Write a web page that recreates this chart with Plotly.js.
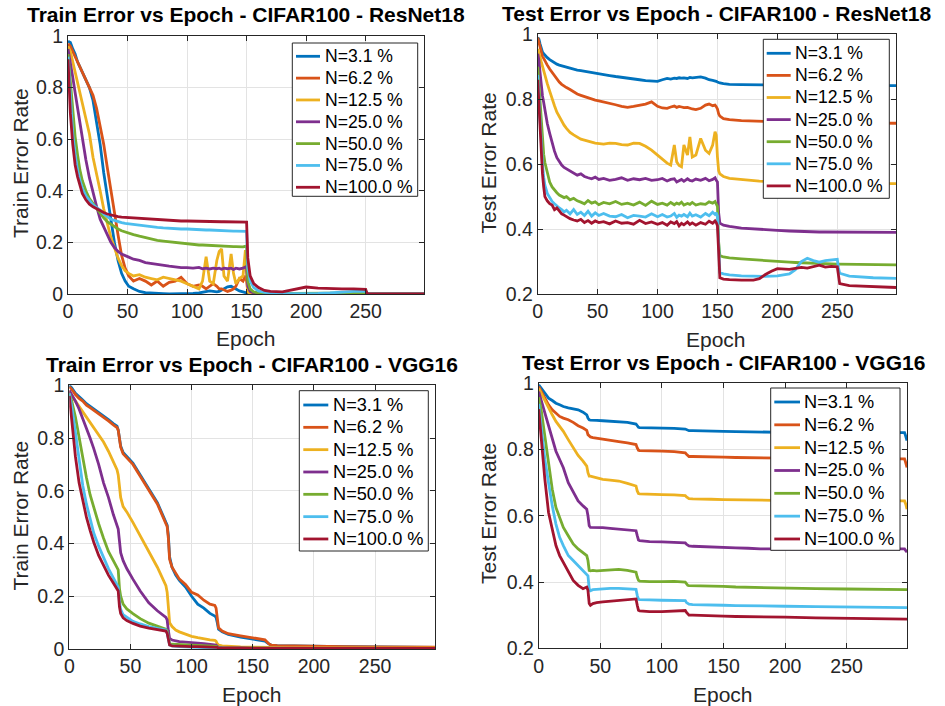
<!DOCTYPE html>
<html>
<head>
<meta charset="utf-8">
<script src="https://cdn.plot.ly/plotly-3.0.1.min.js"></script>
<style>html,body{margin:0;padding:0;background:#fff;}#chart{width:945px;height:706px;}</style>
</head>
<body>
<div id="chart"></div>
<script>
// ---------- Labels ----------
const seriesNames = ['N=3.1 %','N=6.2 %','N=12.5 %','N=25.0 %','N=50.0 %','N=75.0 %','N=100.0 %'];
const seriesColors = ['#0072BD','#D95319','#EDB120','#7E2F8E','#77AC30','#4DBEEE','#A2142F'];
const panelTitles = ['Train Error vs Epoch - CIFAR100 - ResNet18','Test Error vs Epoch - CIFAR100 - ResNet18',
                     'Train Error vs Epoch - CIFAR100 - VGG16','Test Error vs Epoch - CIFAR100 - VGG16'];
const yLabels = ['Train Error Rate','Test Error Rate','Train Error Rate','Test Error Rate'];
const xLabel = 'Epoch';
const xTickVals = [0,50,100,150,200,250];
const xTickText = ['0','50','100','150','200','250'];
const yTrainTickVals = [0,0.2,0.4,0.6,0.8,1];
const yTrainTickText = ['0','0.2','0.4','0.6','0.8','1'];
const yTestTickVals = [0.2,0.4,0.6,0.8,1];
const yTestTickText = ['0.2','0.4','0.6','0.8','1'];

// ---------- Panel 1: ResNet18 train ----------
const resTrainEpochs = [0,2,4,6,8,10,12,15,18,21, 24,27,30,33,36,39,42,45,48,51, 55,60,65,70,75,80,85,90,95,100,
  105,110,113,116,119,122,125,127,129,131, 134,137,139,141,144,147,149,150,151,153, 156,160,165,170,180,190,200,210,220,230,
  240,250,251,252,260,280,299];
const resTrain_3_1 = [0.98,0.975,0.95,0.93,0.9,0.88,0.86,0.83,0.8,0.75, 0.67,0.58,0.47,0.38,0.29,0.2,0.13,0.08,0.05,0.03,
  0.02,0.01,0.005,0.003,0.002,0.001,0,0,0,0, 0.002,0.004,0.006,0.01,0.012,0.01,0.008,0.01,0.015,0.02,
  0.028,0.03,0.025,0.02,0.012,0.008,0.005,0.003,0,0, 0,0,0,0,0,0,0,0,0,0, 0,0,0,0,0,0,0];
const resTrain_6_2 = [0.97,0.96,0.94,0.92,0.9,0.88,0.86,0.83,0.8,0.77, 0.72,0.65,0.58,0.49,0.4,0.31,0.23,0.15,0.1,0.07,
  0.05,0.06,0.05,0.035,0.05,0.03,0.045,0.05,0.065,0.04, 0.03,0.035,0.03,0.02,0.03,0.04,0.03,0.02,0.02,0.015,
  0.01,0.015,0.02,0.03,0.06,0.05,0.07,0.05,0.01,0, 0,0,0,0,0,0,0,0,0,0, 0,0,0,0,0,0,0];
const resTrain_12_5 = [0.96,0.94,0.9,0.86,0.82,0.78,0.74,0.69,0.62,0.53, 0.47,0.4,0.33,0.27,0.22,0.18,0.14,0.11,0.09,0.08,
  0.07,0.075,0.065,0.06,0.055,0.065,0.06,0.055,0.05,0.04, 0.03,0.02,0.05,0.145,0.05,0.04,0.13,0.165,0.175,0.07,
  0.05,0.155,0.08,0.04,0.06,0.07,0.17,0.1,0.01,0, 0,0,0,0,0,0,0,0,0,0, 0,0,0,0,0,0,0];
const resTrain_25 = [0.95,0.9,0.84,0.78,0.72,0.66,0.6,0.52,0.45,0.39, 0.34,0.29,0.26,0.23,0.2,0.18,0.165,0.155,0.148,0.143,
  0.135,0.13,0.122,0.118,0.115,0.11,0.108,0.105,0.102,0.102, 0.1,0.103,0.098,0.1,0.097,0.1,0.098,0.1,0.096,0.1,
  0.098,0.1,0.095,0.1,0.097,0.1,0.105,0.1,0.03,0.01, 0.004,0.001,0,0,0,0,0,0,0,0, 0,0,0,0,0,0,0];
const resTrain_50 = [0.93,0.82,0.7,0.61,0.54,0.48,0.44,0.4,0.37,0.35, 0.33,0.31,0.295,0.28,0.27,0.26,0.252,0.245,0.24,0.235,
  0.23,0.224,0.218,0.213,0.208,0.205,0.202,0.2,0.197,0.195, 0.193,0.19,0.19,0.189,0.188,0.188,0.187,0.186,0.186,0.185,
  0.185,0.184,0.184,0.184,0.183,0.183,0.185,0.183,0.05,0.02, 0.008,0.004,0.003,0.002,0.002,0.002,0.002,0.003,0.003,0.004,
  0.004,0.004,0.001,0,0,0,0];
const resTrain_75 = [0.92,0.75,0.62,0.54,0.48,0.44,0.41,0.38,0.36,0.345, 0.335,0.325,0.31,0.3,0.29,0.285,0.28,0.277,0.274,0.272,
  0.27,0.266,0.262,0.26,0.258,0.256,0.254,0.253,0.252,0.252, 0.25,0.249,0.249,0.248,0.248,0.247,0.247,0.246,0.246,0.245,
  0.245,0.245,0.244,0.244,0.244,0.243,0.243,0.243,0.1,0.05, 0.025,0.012,0.006,0.004,0.002,0.001,0.001,0.002,0.004,0.008,
  0.01,0.01,0.003,0,0,0,0];
const resTrain_100 = [0.91,0.7,0.58,0.5,0.455,0.42,0.39,0.365,0.348,0.338, 0.33,0.322,0.316,0.31,0.306,0.303,0.3,0.298,0.297,0.296,
  0.294,0.292,0.29,0.289,0.287,0.286,0.285,0.284,0.283,0.283, 0.282,0.282,0.281,0.281,0.281,0.28,0.28,0.28,0.28,0.28,
  0.28,0.28,0.279,0.279,0.279,0.279,0.279,0.279,0.14,0.07, 0.04,0.025,0.014,0.01,0.008,0.018,0.027,0.023,0.021,0.02,
  0.02,0.018,0.005,0,0,0,0];

// ---------- Panel 2: ResNet18 test ----------
const resTestEpochs = [0,1,2,3,4,5,6,8,10,12, 14,16,18,20,22,24,27,30,33,36, 39,42,45,48,51,55,60,65,70,75,
  80,85,90,95,100,104,108,111,114,116, 118,120,122,125,127,129,132,136,140,143, 146,148,149,150,151,152,155,160,170,180,
  185,190,195,200,210,215,220,225,230,235, 240,245,250,251,252,260,270,280,299];
const resTest_3_1 = [0.99,0.985,0.97,0.955,0.945,0.94,0.935,0.928,0.922,0.917, 0.912,0.908,0.905,0.903,0.9,0.897,0.895,0.892,0.89,0.888,
  0.886,0.883,0.881,0.879,0.877,0.875,0.873,0.87,0.868,0.865, 0.862,0.86,0.857,0.856,0.855,0.86,0.864,0.862,0.865,0.864,
  0.866,0.865,0.866,0.864,0.867,0.866,0.868,0.869,0.865,0.86, 0.858,0.857,0.855,0.853,0.851,0.85,0.848,0.846,0.845,0.844,
  0.844,0.844,0.843,0.843,0.843,0.843,0.843,0.843,0.843,0.843, 0.843,0.843,0.842,0.842,0.842,0.842,0.842,0.842,0.842];
const resTest_6_2 = [0.99,0.975,0.955,0.94,0.932,0.926,0.918,0.905,0.893,0.882, 0.872,0.862,0.853,0.846,0.84,0.836,0.83,0.823,0.816,0.812,
  0.808,0.804,0.8,0.797,0.795,0.792,0.788,0.783,0.778,0.775, 0.778,0.782,0.785,0.792,0.778,0.773,0.772,0.776,0.779,0.775,
  0.778,0.776,0.774,0.775,0.772,0.77,0.768,0.772,0.782,0.785, 0.78,0.782,0.777,0.77,0.755,0.748,0.74,0.737,0.734,0.732,
  0.732,0.731,0.731,0.73,0.73,0.73,0.729,0.729,0.729,0.729, 0.728,0.728,0.728,0.728,0.728,0.727,0.727,0.726,0.726];
const resTest_12_5 = [0.955,0.945,0.93,0.915,0.9,0.89,0.875,0.848,0.825,0.8, 0.78,0.76,0.745,0.732,0.72,0.71,0.698,0.69,0.683,0.677,
  0.674,0.67,0.668,0.665,0.664,0.662,0.665,0.664,0.66,0.659, 0.665,0.664,0.655,0.643,0.628,0.615,0.603,0.597,0.659,0.607,
  0.596,0.592,0.659,0.628,0.684,0.622,0.628,0.679,0.643,0.633, 0.659,0.7,0.69,0.622,0.58,0.57,0.562,0.556,0.552,0.549,
  0.548,0.547,0.547,0.546,0.545,0.545,0.545,0.544,0.544,0.544, 0.543,0.543,0.543,0.543,0.542,0.542,0.541,0.541,0.54];
const resTest_25 = [0.94,0.92,0.88,0.84,0.81,0.79,0.765,0.725,0.695,0.665, 0.64,0.62,0.607,0.597,0.59,0.586,0.578,0.572,0.566,0.57,
  0.562,0.558,0.555,0.56,0.553,0.556,0.55,0.553,0.558,0.55, 0.555,0.552,0.556,0.55,0.552,0.556,0.548,0.553,0.555,0.545,
  0.55,0.553,0.547,0.555,0.55,0.548,0.554,0.55,0.556,0.549, 0.553,0.558,0.55,0.545,0.45,0.418,0.412,0.408,0.403,0.4,
  0.399,0.397,0.397,0.396,0.394,0.393,0.392,0.392,0.392,0.391, 0.391,0.391,0.391,0.391,0.391,0.39,0.39,0.39,0.39];
const resTest_50 = [0.9,0.85,0.78,0.72,0.67,0.63,0.605,0.57,0.545,0.53, 0.52,0.512,0.505,0.5,0.497,0.5,0.49,0.495,0.487,0.483,
  0.478,0.488,0.48,0.484,0.475,0.482,0.478,0.485,0.476,0.48, 0.474,0.483,0.473,0.486,0.476,0.48,0.474,0.482,0.475,0.48,
  0.477,0.483,0.474,0.479,0.476,0.482,0.474,0.478,0.476,0.484, 0.48,0.485,0.478,0.47,0.36,0.318,0.314,0.311,0.308,0.305,
  0.304,0.302,0.301,0.3,0.298,0.297,0.296,0.295,0.294,0.294, 0.293,0.293,0.292,0.292,0.292,0.291,0.291,0.29,0.29];
const resTest_75 = [0.875,0.8,0.72,0.65,0.6,0.56,0.535,0.51,0.495,0.485, 0.478,0.47,0.465,0.46,0.453,0.458,0.447,0.46,0.445,0.452,
  0.442,0.455,0.44,0.45,0.442,0.448,0.44,0.438,0.445,0.435, 0.442,0.44,0.437,0.447,0.438,0.445,0.437,0.44,0.448,0.436,
  0.443,0.44,0.445,0.438,0.449,0.44,0.444,0.437,0.448,0.441, 0.452,0.445,0.45,0.44,0.32,0.266,0.262,0.259,0.256,0.254,
  0.254,0.254,0.255,0.256,0.262,0.275,0.3,0.31,0.303,0.298, 0.303,0.305,0.307,0.28,0.264,0.255,0.252,0.25,0.248];
const resTest_100 = [0.86,0.78,0.7,0.62,0.57,0.53,0.5,0.487,0.478,0.474, 0.46,0.465,0.455,0.447,0.443,0.438,0.432,0.428,0.425,0.43,
  0.42,0.426,0.418,0.425,0.42,0.423,0.416,0.425,0.418,0.42, 0.415,0.427,0.417,0.422,0.415,0.42,0.412,0.422,0.417,0.423,
  0.41,0.418,0.413,0.422,0.414,0.419,0.412,0.42,0.415,0.424, 0.418,0.425,0.42,0.41,0.3,0.25,0.246,0.244,0.243,0.243,
  0.247,0.26,0.27,0.278,0.276,0.278,0.282,0.28,0.285,0.289, 0.283,0.285,0.284,0.25,0.232,0.226,0.224,0.222,0.22];

// ---------- Panel 3: VGG16 train ----------
const vggTrainEpochs = [0,2,5,8,11,14,17,20,24,28, 32,36,39,40,41,42,44,47,52,58, 65,72,79,80,81,82,84,87,90,95,
  100,105,110,115,119,120,121,122,125,130, 140,150,160,163,165,170,180,200,225,250, 275,299];
const vggTrain_3_1 = [1.0,0.99,0.97,0.955,0.944,0.93,0.92,0.91,0.9,0.885, 0.87,0.855,0.845,0.83,0.8,0.77,0.745,0.73,0.705,0.66,
  0.61,0.555,0.48,0.47,0.43,0.35,0.31,0.28,0.26,0.235, 0.2,0.17,0.155,0.135,0.125,0.12,0.1,0.075,0.065,0.055,
  0.045,0.037,0.03,0.02,0.015,0.013,0.012,0.01,0.009,0.008, 0.007,0.006];
const vggTrain_6_2 = [0.995,0.985,0.965,0.95,0.94,0.925,0.915,0.905,0.895,0.88, 0.865,0.85,0.84,0.83,0.8,0.765,0.74,0.725,0.7,0.655,
  0.6,0.55,0.475,0.465,0.42,0.34,0.31,0.285,0.265,0.245, 0.215,0.205,0.185,0.17,0.165,0.155,0.12,0.08,0.068,0.058,
  0.05,0.042,0.035,0.02,0.015,0.013,0.012,0.01,0.009,0.008, 0.008,0.007];
const vggTrain_12_5 = [0.98,0.96,0.94,0.92,0.9,0.88,0.86,0.84,0.815,0.785, 0.75,0.71,0.68,0.66,0.61,0.575,0.54,0.52,0.48,0.43,
  0.37,0.31,0.24,0.215,0.16,0.1,0.085,0.072,0.065,0.055, 0.048,0.043,0.038,0.035,0.033,0.03,0.02,0.015,0.012,0.01,
  0.008,0.007,0.006,0.006,0.005,0.005,0.005,0.005,0.004,0.004, 0.004,0.004];
const vggTrain_25 = [0.98,0.965,0.94,0.91,0.875,0.84,0.8,0.76,0.7,0.63, 0.575,0.51,0.465,0.455,0.41,0.365,0.335,0.305,0.265,0.22,
  0.175,0.145,0.12,0.11,0.07,0.04,0.034,0.03,0.028,0.026, 0.025,0.022,0.02,0.018,0.016,0.015,0.01,0.007,0.005,0.004,
  0.004,0.003,0.003,0.003,0.003,0.003,0.002,0.002,0.002,0.002, 0.002,0.002];
const vggTrain_50 = [0.97,0.94,0.88,0.8,0.72,0.65,0.585,0.535,0.475,0.42, 0.37,0.335,0.31,0.3,0.23,0.2,0.17,0.152,0.134,0.115,
  0.098,0.085,0.075,0.07,0.04,0.02,0.018,0.017,0.016,0.015, 0.015,0.014,0.013,0.012,0.012,0.01,0.007,0.005,0.004,0.003,
  0.003,0.003,0.002,0.002,0.002,0.002,0.002,0.002,0.002,0.002, 0.002,0.002];
const vggTrain_75 = [0.97,0.92,0.82,0.71,0.62,0.55,0.49,0.44,0.39,0.345, 0.305,0.27,0.245,0.235,0.18,0.15,0.13,0.12,0.105,0.095,
  0.085,0.078,0.072,0.06,0.03,0.015,0.012,0.01,0.009,0.008, 0.007,0.006,0.005,0.005,0.005,0.004,0.003,0.003,0.003,0.002,
  0.002,0.002,0.002,0.002,0.002,0.002,0.002,0.002,0.002,0.002, 0.002,0.002];
const vggTrain_100 = [0.96,0.87,0.73,0.63,0.56,0.5,0.45,0.405,0.355,0.315, 0.28,0.25,0.23,0.22,0.16,0.135,0.118,0.108,0.097,0.087,
  0.079,0.073,0.068,0.06,0.03,0.015,0.012,0.011,0.01,0.009, 0.009,0.009,0.008,0.008,0.008,0.008,0.006,0.004,0.003,0.003,
  0.003,0.002,0.002,0.002,0.002,0.002,0.002,0.002,0.002,0.002, 0.002,0.002];

// ---------- Panel 4: VGG16 test ----------
const vggTestEpochs = [0,2,5,8,11,14,17,20,24,28, 32,36,39,40,41,42,44,47,52,58, 65,72,79,80,81,82,85,90,100,110,
  119,120,121,122,125,130,140,150,160,170, 180,200,225,250,275,297,298,299];
const vggTest_3_1 = [0.995,0.985,0.97,0.955,0.948,0.94,0.935,0.93,0.926,0.923, 0.92,0.913,0.905,0.895,0.89,0.889,0.888,0.888,0.887,0.886,
  0.884,0.882,0.877,0.872,0.867,0.866,0.866,0.865,0.864,0.864, 0.862,0.86,0.858,0.857,0.857,0.857,0.856,0.855,0.854,0.853,
  0.853,0.852,0.852,0.852,0.851,0.851,0.84,0.827];
const vggTest_6_2 = [0.99,0.975,0.955,0.935,0.92,0.91,0.9,0.895,0.89,0.882, 0.872,0.865,0.858,0.845,0.84,0.838,0.836,0.834,0.832,0.828,
  0.824,0.82,0.815,0.805,0.798,0.797,0.797,0.796,0.795,0.794, 0.79,0.786,0.781,0.779,0.779,0.779,0.778,0.777,0.776,0.775,
  0.775,0.774,0.773,0.773,0.772,0.772,0.76,0.746];
const vggTest_12_5 = [0.985,0.97,0.945,0.925,0.905,0.885,0.87,0.855,0.83,0.805, 0.782,0.765,0.75,0.73,0.72,0.72,0.718,0.714,0.71,0.708,
  0.705,0.698,0.69,0.675,0.667,0.666,0.666,0.665,0.664,0.663, 0.661,0.657,0.653,0.652,0.651,0.65,0.65,0.649,0.648,0.647,
  0.646,0.646,0.646,0.645,0.645,0.645,0.635,0.62];
const vggTest_25 = [0.975,0.95,0.91,0.87,0.83,0.795,0.77,0.745,0.7,0.67, 0.645,0.63,0.62,0.6,0.57,0.565,0.565,0.566,0.564,0.562,
  0.56,0.557,0.555,0.54,0.527,0.525,0.524,0.522,0.521,0.52, 0.518,0.514,0.51,0.509,0.508,0.507,0.506,0.505,0.503,0.502,
  0.5,0.5,0.5,0.5,0.5,0.5,0.495,0.49];
const vggTest_50 = [0.958,0.92,0.84,0.76,0.68,0.625,0.595,0.565,0.54,0.515, 0.5,0.488,0.48,0.465,0.435,0.434,0.435,0.434,0.435,0.436,
  0.438,0.435,0.43,0.415,0.405,0.403,0.402,0.401,0.401,0.402, 0.4,0.395,0.39,0.389,0.389,0.388,0.388,0.387,0.385,0.384,
  0.383,0.381,0.38,0.379,0.378,0.377,0.377,0.377];
const vggTest_75 = [0.938,0.87,0.77,0.7,0.63,0.575,0.535,0.51,0.48,0.465, 0.45,0.435,0.425,0.419,0.38,0.374,0.377,0.378,0.379,0.381,
  0.381,0.38,0.378,0.36,0.348,0.347,0.346,0.346,0.345,0.345, 0.344,0.338,0.334,0.333,0.332,0.332,0.331,0.33,0.329,0.328,
  0.328,0.327,0.326,0.325,0.324,0.323,0.323,0.323];
const vggTest_100 = [0.922,0.83,0.71,0.61,0.555,0.51,0.48,0.46,0.43,0.405, 0.39,0.38,0.385,0.375,0.335,0.33,0.335,0.338,0.34,0.342,
  0.344,0.346,0.349,0.33,0.315,0.313,0.312,0.311,0.311,0.313, 0.314,0.308,0.302,0.3,0.3,0.299,0.298,0.297,0.296,0.296,
  0.295,0.294,0.292,0.291,0.29,0.289,0.289,0.288];

// ---------- Build ----------
const FONT = 'Liberation Sans, Arial, Helvetica, sans-serif';
const AXC = '#262626';
const LW = 2.8;
const panels = [
  {ep: resTrainEpochs, ys: [resTrain_3_1,resTrain_6_2,resTrain_12_5,resTrain_25,resTrain_50,resTrain_75,resTrain_100], xa:'x', ya:'y'},
  {ep: resTestEpochs, ys: [resTest_3_1,resTest_6_2,resTest_12_5,resTest_25,resTest_50,resTest_75,resTest_100], xa:'x2', ya:'y2'},
  {ep: vggTrainEpochs, ys: [vggTrain_3_1,vggTrain_6_2,vggTrain_12_5,vggTrain_25,vggTrain_50,vggTrain_75,vggTrain_100], xa:'x3', ya:'y3'},
  {ep: vggTestEpochs, ys: [vggTest_3_1,vggTest_6_2,vggTest_12_5,vggTest_25,vggTest_50,vggTest_75,vggTest_100], xa:'x4', ya:'y4'}
];
const traces = [];
panels.forEach(p => {
  p.ys.forEach((y, i) => {
    traces.push({x: p.ep, y: y, type:'scatter', mode:'lines', name: seriesNames[i], showlegend:false,
      line:{color: seriesColors[i], width: LW}, xaxis: p.xa, yaxis: p.ya, hoverinfo:'skip'});
  });
});

const W = 945, H = 706;
const px = v => v / W, py = v => 1 - v / H;
function xax(l, r) {
  return {domain:[px(l), px(r)], range:[0,299], tickvals:xTickVals, ticktext:xTickText,
    showline:true, linecolor:AXC, linewidth:1, mirror:'ticks', ticks:'inside', ticklen:5, tickcolor:AXC,
    showgrid:true, gridcolor:'#e3e3e3', gridwidth:1, zeroline:false, fixedrange:true,
    tickfont:{family:FONT, size:19.5, color:AXC}};
}
function yax(t, b, train) {
  return {domain:[py(b), py(t)], range: train ? [0,1] : [0.2,1],
    tickvals: train ? yTrainTickVals : yTestTickVals, ticktext: train ? yTrainTickText : yTestTickText,
    showline:true, linecolor:AXC, linewidth:1, mirror:'ticks', ticks:'inside', ticklen:5, tickcolor:AXC,
    showgrid:true, gridcolor:'#e3e3e3', gridwidth:1, zeroline:false, fixedrange:true,
    tickfont:{family:FONT, size:19.5, color:AXC}};
}
const box = [
  {l:68, r:424, t:36, b:294},
  {l:537.7, r:896, t:34.3, b:294},
  {l:69.3, r:435, t:385.3, b:649},
  {l:538.7, r:907, t:383.3, b:648.3}
];
const titlePos = [{x:245.5, y:14.8}, {x:716, y:13.2}, {x:252, y:364.5}, {x:723, y:362.5}];
const yLabPos = [{x:20, y:163}, {x:487.5, y:163}, {x:20, y:515.5}, {x:488, y:514}];
const xLabPos = [{x:246, y:338}, {x:716, y:339}, {x:252, y:694}, {x:722.5, y:694.5}];
// legend geometry (pixels): box, sample line x-range, text x, first row y, row step, font size
const legendGeom = [
  {l:292.3, r:417.7, t:43, b:196.3, s0:296, s1:320, tx:322.5, r0:56.3, dr:21.83, fs:17.6},
  {l:763.3, r:889.3, t:39.3, b:198.3, s0:766.7, s1:790.7, tx:793, r0:53.3, dr:22.1, fs:17.6},
  {l:299.3, r:428.3, t:390.7, b:551, s0:303.3, s1:328.3, tx:330.5, r0:405, dr:22.33, fs:18.2},
  {l:770.7, r:900, t:388, b:550.3, s0:774.3, s1:800, tx:801.5, r0:402, dr:22.83, fs:18.2}
];

const annotations = [];
const shapes = [];
for (let i = 0; i < 4; i++) {
  annotations.push({text: '<b>' + panelTitles[i] + '</b>', xref:'paper', yref:'paper',
    x: px(titlePos[i].x), y: py(titlePos[i].y), xanchor:'center', yanchor:'middle', showarrow:false,
    font:{family:FONT, size:21, color:'#000'}});
  annotations.push({text: yLabels[i], xref:'paper', yref:'paper', textangle:-90,
    x: px(yLabPos[i].x), y: py(yLabPos[i].y), xanchor:'center', yanchor:'middle', showarrow:false,
    font:{family:FONT, size:21, color:AXC}});
  annotations.push({text: xLabel, xref:'paper', yref:'paper',
    x: px(xLabPos[i].x), y: py(xLabPos[i].y), xanchor:'center', yanchor:'middle', showarrow:false,
    font:{family:FONT, size:21, color:AXC}});
  const g = legendGeom[i];
  shapes.push({type:'rect', xref:'paper', yref:'paper', x0:px(g.l), x1:px(g.r), y0:py(g.b), y1:py(g.t),
    fillcolor:'#ffffff', line:{color:AXC, width:1}, layer:'above'});
  for (let k = 0; k < 7; k++) {
    const yy = g.r0 + k * g.dr;
    shapes.push({type:'line', xref:'paper', yref:'paper', x0:px(g.s0), x1:px(g.s1), y0:py(yy), y1:py(yy),
      line:{color: seriesColors[k], width: LW}, layer:'above'});
    annotations.push({text: seriesNames[k], xref:'paper', yref:'paper', x:px(g.tx), y:py(yy),
      xanchor:'left', yanchor:'middle', showarrow:false, font:{family:FONT, size:g.fs, color:'#000'}});
  }
}

const layout = {
  width: W, height: H, margin:{l:0, r:0, t:0, b:0}, paper_bgcolor:'#fff', plot_bgcolor:'#fff',
  font:{family:FONT}, showlegend:false,
  xaxis: Object.assign(xax(box[0].l, box[0].r), {anchor:'y'}),
  yaxis: Object.assign(yax(box[0].t, box[0].b, true), {anchor:'x'}),
  xaxis2: Object.assign(xax(box[1].l, box[1].r), {anchor:'y2'}),
  yaxis2: Object.assign(yax(box[1].t, box[1].b, false), {anchor:'x2'}),
  xaxis3: Object.assign(xax(box[2].l, box[2].r), {anchor:'y3'}),
  yaxis3: Object.assign(yax(box[2].t, box[2].b, true), {anchor:'x3'}),
  xaxis4: Object.assign(xax(box[3].l, box[3].r), {anchor:'y4'}),
  yaxis4: Object.assign(yax(box[3].t, box[3].b, false), {anchor:'x4'}),
  annotations: annotations,
  shapes: shapes
};
Plotly.newPlot('chart', traces, layout, {staticPlot:true, displayModeBar:false});
</script>
</body>
</html>
